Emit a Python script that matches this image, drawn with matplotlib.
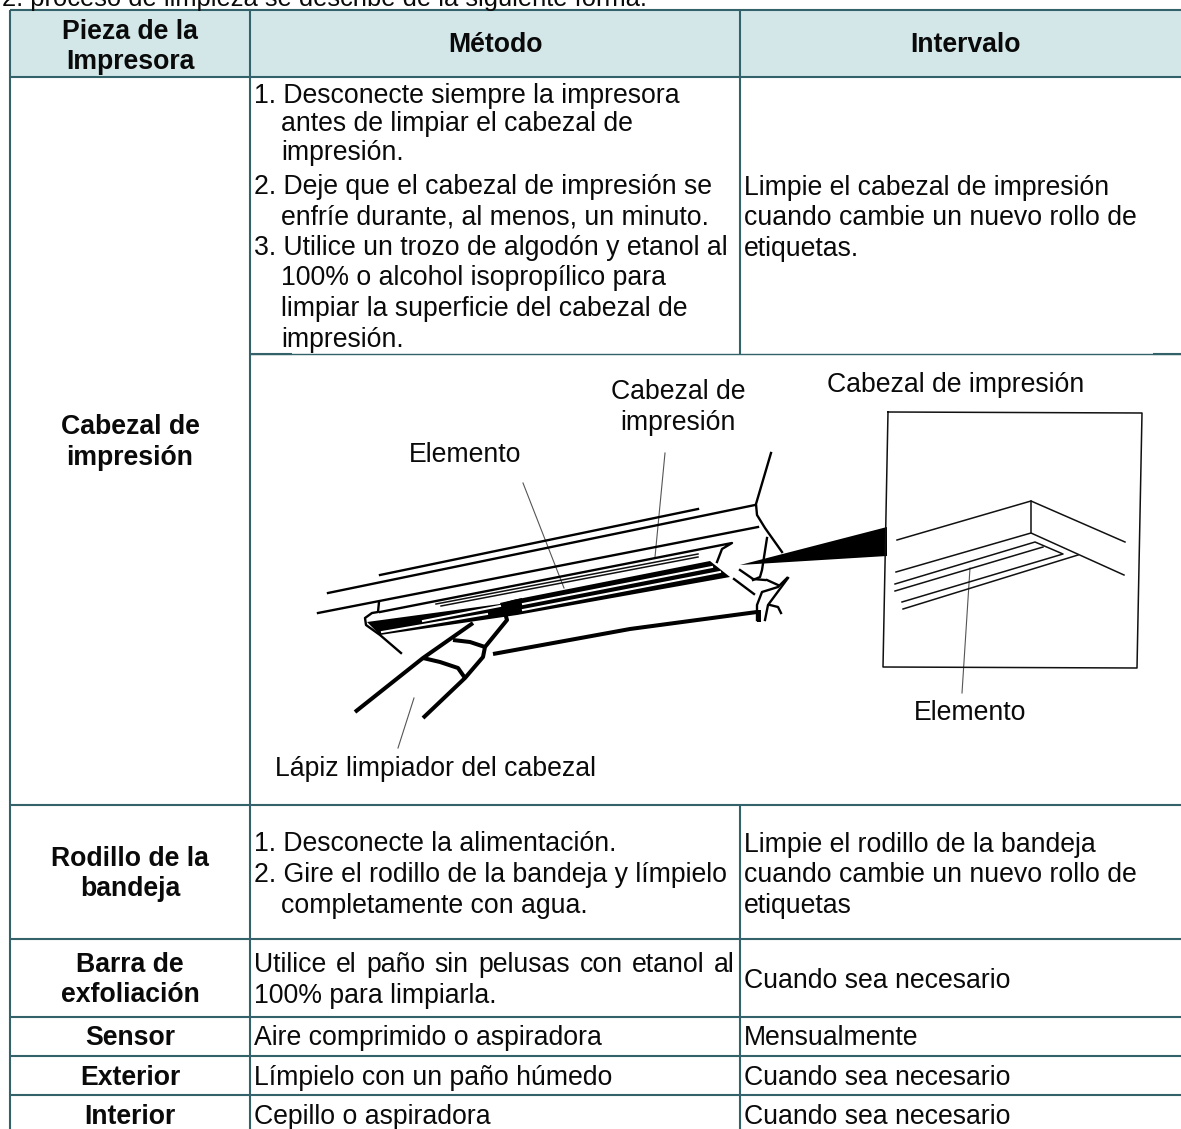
#!/usr/bin/env python3
import matplotlib
matplotlib.use("Agg")
import matplotlib.pyplot as plt
from matplotlib.patches import Polygon, Rectangle

W, H = 1181, 1129
BORDER = "#33626A"
HEAD_BG = "#D3E7E9"
FS = 19.15
FONT = "Liberation Sans"

# table grid
col_x = [10, 250, 740]
row_y = [10, 77, 354, 805, 939, 1017, 1056, 1095]

intro = "2. proceso de limpieza se describe de la siguiente forma."
headers = ["Método", "Intervalo"]
header_first = ["Pieza de la", "Impresora"]

# (text, x, centre y)
bold_labels = [
    ("Cabezal de", 130, 425), ("impresión", 130, 456),
    ("Rodillo de la", 130, 857), ("bandeja", 130, 887),
    ("Barra de", 130, 963), ("exfoliación", 130, 993),
    ("Sensor", 130, 1036), ("Exterior", 130, 1076), ("Interior", 130, 1115),
]
method_lines = [
    ("1. Desconecte siempre la impresora", 254, 94),
    ("antes de limpiar el cabezal de", 281, 122),
    ("impresión.", 281, 151),
    ("2. Deje que el cabezal de impresión se", 254, 185),
    ("enfríe durante, al menos, un minuto.", 281, 215),
    ("3. Utilice un trozo de algodón y etanol al", 254, 246),
    ("100% o alcohol isopropílico para", 281, 276),
    ("limpiar la superficie del cabezal de", 281, 307),
    ("impresión.", 281, 338),
    ("1. Desconecte la alimentación.", 254, 842),
    ("2. Gire el rodillo de la bandeja y límpielo", 254, 873),
    ("completamente con agua.", 281, 904),
    ("100% para limpiarla.", 254, 994),
    ("Aire comprimido o aspiradora", 254, 1036),
    ("Límpielo con un paño húmedo", 254, 1076),
    ("Cepillo o aspiradora", 254, 1115),
]
justified_line = ("Utilice el paño sin pelusas con etanol al", 254, 735, 963)
interval_lines = [
    ("Limpie el cabezal de impresión", 186),
    ("cuando cambie un nuevo rollo de", 216),
    ("etiquetas.", 247),
    ("Limpie el rodillo de la bandeja", 843),
    ("cuando cambie un nuevo rollo de", 873),
    ("etiquetas", 904),
    ("Cuando sea necesario", 979),
    ("Mensualmente", 1036),
    ("Cuando sea necesario", 1076),
    ("Cuando sea necesario", 1115),
]
figure_labels = [
    ("Cabezal de", 678, 390), ("impresión", 678, 421),
    ("Elemento", 465, 453), ("Cabezal de impresión", 956, 383),
    ("Elemento", 970, 711),
]
pencil_label = ("Lápiz limpiador del cabezal", 275, 767)

# printhead sketch, pixel positions
sketch_thin = [
    [(436, 604), (698, 554)],
    [(441, 606), (698, 557)],
    [(897, 540), (1031, 501), (1125, 542)],
    [(1031, 501), (1031, 533)],
    [(896, 572), (1031, 533), (1124, 575)],
    [(895, 584), (1035, 542), (1063, 554), (902, 602)],
    [(895, 591), (1043, 547)],
    [(903, 609), (1078, 555)],
    [(888, 412), (1142, 413), (1137, 668), (883, 667), (888, 412)],
]
sketch_mid = [
    [(380, 575), (698, 509)],
    [(328, 593), (755, 505)],
    [(318, 613), (758, 527)],
    [(380, 612), (732, 543), (722, 549), (717, 562)],
    [(771, 453), (756, 504), (757, 515), (765, 528), (782, 552)],
    [(767, 538), (762, 570), (760, 577), (753, 580)],
    [(740, 570), (753, 579), (765, 580)],
    [(734, 579), (754, 594)],
    [(787, 578), (778, 587), (762, 592), (757, 605), (757, 620)],
    [(788, 578), (768, 605), (765, 620)],
    [(770, 605), (778, 607), (781, 613)],
    [(767, 580), (778, 585)],
    [(379, 602), (378, 612), (372, 613), (365, 618), (366, 625), (380, 635), (401, 653)],
]
sketch_heavy = [
    [(493, 654), (630, 629), (757, 612)],
    [(355, 712), (423, 658), (473, 623)],
    [(423, 718), (465, 678), (483, 657), (485, 647), (507, 620), (505, 613)],
    [(423, 658), (440, 662), (458, 668), (465, 678)],
    [(453, 640), (470, 642), (485, 647)],
    [(759, 610), (759, 622)],
]
strip = [(367, 622), (500, 604), (513, 600), (710, 561), (730, 577), (517, 615), (380, 635)]
strip_slits = [
    [(382, 632), (487, 614)],
    [(423, 621), (500, 606)],
    [(523, 604), (712, 567)],
    [(523, 610), (720, 572)],
]
tip_blob = [(500, 603), (522, 598), (522, 612), (505, 616)]
wedge = [(740, 565), (887, 527), (887, 556)]
leaders = [
    [(523, 483), (564, 588)],
    [(665, 453), (655, 557)],
    [(414, 698), (398, 748)],
    [(970, 568), (962, 693)],
]


def hline(y, x0, x1, lw=1.5):
    ax.plot([x0, x1], [y, y], color=BORDER, lw=lw, solid_capstyle="butt")


def vline(x, y0, y1, lw=1.5):
    ax.plot([x, x], [y0, y1], color=BORDER, lw=lw, solid_capstyle="butt")


def put(s, x, y, ha="left", weight="normal"):
    ax.text(x, y + 9, s, ha=ha, va="baseline", fontsize=FS, fontweight=weight,
            family=FONT, color="#0a0a0a")


def put_justified(s, x0, x1, y):
    words = s.split()
    r = fig.canvas.get_renderer()
    arts = [ax.text(0, y + 9, w, fontsize=FS, family=FONT, va="baseline", color="#0a0a0a") for w in words]
    widths = [a.get_window_extent(r).width for a in arts]
    gap = (x1 - x0 - sum(widths)) / (len(words) - 1)
    x = x0
    for a, w in zip(arts, widths):
        a.set_x(x)
        x += w + gap


fig = plt.figure(figsize=(W / 100, H / 100), dpi=100)
ax = fig.add_axes([0, 0, 1, 1])
ax.set_xlim(0, W)
ax.set_ylim(H, 0)
ax.axis("off")

# header band and grid
ax.add_patch(Rectangle((col_x[0], row_y[0]), W - col_x[0], row_y[1] - row_y[0], fc=HEAD_BG, ec="none"))
hline(row_y[0], col_x[0], W)
hline(row_y[1], col_x[0], W)
hline(row_y[2], col_x[1], W, lw=1.0)
hline(row_y[2], col_x[1], 292)
hline(row_y[2], 1153, W)
for y in row_y[3:]:
    hline(y, col_x[0], W)
vline(col_x[0], row_y[0], H)
vline(col_x[1], row_y[0], H)
vline(col_x[2], row_y[0], row_y[2])
vline(col_x[2], row_y[3], H)

# text
ax.text(2, 6, intro, fontsize=18.4, family=FONT, va="baseline", color="#0a0a0a")
put(header_first[0], 130, 30, ha="center", weight="bold")
put(header_first[1], 130, 60, ha="center", weight="bold")
put(headers[0], 496, 43, ha="center", weight="bold")
put(headers[1], 966, 43, ha="center", weight="bold")
for s, x, y in bold_labels:
    put(s, x, y, ha="center", weight="bold")
for s, x, y in method_lines:
    put(s, x, y)
put_justified(justified_line[0], justified_line[1], justified_line[2], justified_line[3])
for s, y in interval_lines:
    put(s, 744, y)
for s, x, y in figure_labels:
    put(s, x, y, ha="center")
put(pencil_label[0], pencil_label[1], pencil_label[2])

# printhead sketch
for line in leaders:
    ax.plot(*zip(*line), color="#555555", lw=0.8)
for line in sketch_thin:
    ax.plot(*zip(*line), color="#111111", lw=1.1)
for line in sketch_mid:
    ax.plot(*zip(*line), color="black", lw=1.7)
for line in sketch_heavy:
    ax.plot(*zip(*line), color="black", lw=2.9, solid_capstyle="butt")
ax.add_patch(Polygon(strip, fc="black", ec="none"))
for line in strip_slits:
    ax.plot(*zip(*line), color="white", lw=1.5)
ax.add_patch(Polygon(tip_blob, fc="black", ec="none"))
ax.add_patch(Polygon(wedge, fc="black", ec="none"))

fig.savefig("out.png", dpi=100)
